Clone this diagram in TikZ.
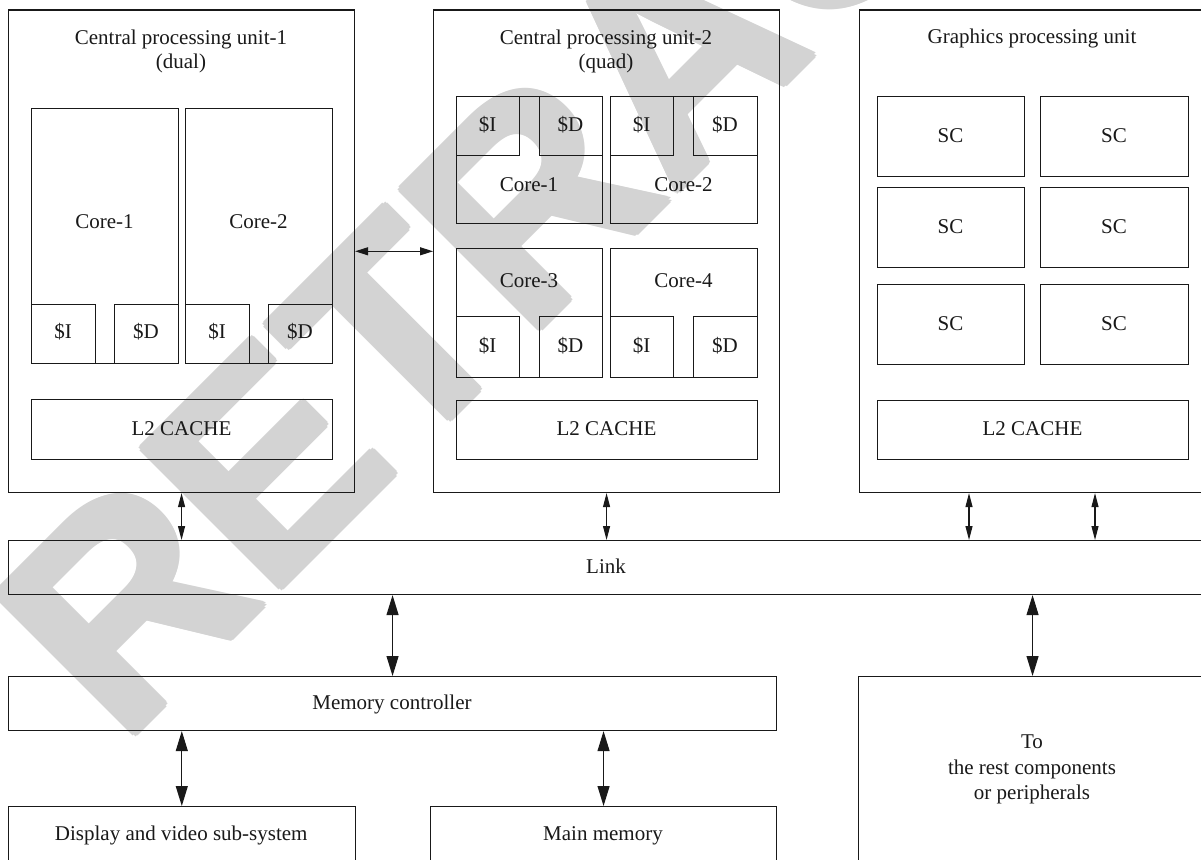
\documentclass[tikz,border=0pt]{standalone}
\usepackage{fontspec}
\setmainfont{Liberation Serif}
\newfontfamily\stampfont{Liberation Sans}
\usetikzlibrary{arrows.meta,calc}
\definecolor{stamp}{RGB}{211,211,211}
\definecolor{ink}{RGB}{25,25,25}

\tikzset{
  box/.style={draw=ink, line width=1.1pt, inner sep=0pt, anchor=north west},
  txt/.style={inner sep=0pt, anchor=base, text=ink, font=\fontsize{21}{24}\selectfont},
  block/.style={inner sep=0pt, anchor=north, align=center, text=ink},
  stampstyle/.style={rotate=45, anchor=base west, inner sep=0pt, text=stamp,
      font=\stampfont\bfseries\fontsize{286}{286}\selectfont},
  linkarrow/.style={draw=ink, line width=1.1pt, {Triangle[length=14pt,width=7pt]}-{Triangle[length=14pt,width=7pt]}},
  midarrow/.style={draw=ink, line width=1.1pt, {Triangle[length=13pt,width=8pt]}-{Triangle[length=13pt,width=8pt]}},
  bigarrow/.style={draw=ink, line width=1.1pt, {Triangle[length=20pt,width=12pt]}-{Triangle[length=20pt,width=12pt]}},
}

\begin{document}
\begin{tikzpicture}[x=1pt,y=-1pt]
\useasboundingbox (0,0) rectangle (1201,859);
\clip (0,0) rectangle (1201,859);
\fill[white] (0,0) rectangle (1201,859);

% background stamp, set a few times with small offsets to give heavier strokes
\coordinate (stampbase) at (122,747);
\foreach \a in {0,45,...,315}{
  \node[stampstyle] (stampword-\a) at ($(stampbase)+(\a:3.5)$) {RETRACTED};
}
\node[stampstyle] (stampword) at (stampbase) {RETRACTED};

% ---------- CPU 1 (dual) ----------
\node[box, minimum width=346pt, minimum height=482.5pt] (cpu1) at (8,9.5) {};
\node[block, font=\fontsize{21}{24}\selectfont] (cpu1title) at (181,30) {Central processing unit-1\\(dual)};
\node[box, minimum width=147pt, minimum height=255pt] (c1core1) at (31,108) {};
\node[box, minimum width=147pt, minimum height=255pt] (c1core2) at (185,108) {};
\node[box, minimum width=64pt, minimum height=59pt] (c1i1) at (31,304) {};
\node[box, minimum width=64pt, minimum height=59pt] (c1d1) at (114,304) {};
\node[box, minimum width=64pt, minimum height=59pt] (c1i2) at (185,304) {};
\node[box, minimum width=64pt, minimum height=59pt] (c1d2) at (268,304) {};
\node[box, minimum width=301pt, minimum height=60pt] (c1l2) at (31,399) {};
\node[txt] (t-c1core1) at (104.5,228) {Core-1};
\node[txt] (t-c1core2) at (258.5,228) {Core-2};
\node[txt] (t-c1i1) at (63,338) {\$I};
\node[txt] (t-c1d1) at (146,338) {\$D};
\node[txt] (t-c1i2) at (217,338) {\$I};
\node[txt] (t-c1d2) at (300,338) {\$D};
\node[txt] (t-c1l2) at (181.5,435) {L2 CACHE};

% ---------- CPU 2 (quad) ----------
\node[box, minimum width=346pt, minimum height=482.5pt] (cpu2) at (433,9.5) {};
\node[block, font=\fontsize{21}{24}\selectfont] (cpu2title) at (606,30) {Central processing unit-2\\(quad)};
\node[box, minimum width=146pt, minimum height=127pt] (c2core1) at (456,96) {};
\node[box, minimum width=147pt, minimum height=127pt] (c2core2) at (610,96) {};
\node[box, minimum width=146pt, minimum height=129pt] (c2core3) at (456,248) {};
\node[box, minimum width=147pt, minimum height=129pt] (c2core4) at (610,248) {};
\node[box, minimum width=63pt, minimum height=59pt] (c2i1) at (456,96) {};
\node[box, minimum width=63pt, minimum height=59pt] (c2d1) at (539,96) {};
\node[box, minimum width=63pt, minimum height=59pt] (c2i2) at (610,96) {};
\node[box, minimum width=64pt, minimum height=59pt] (c2d2) at (693,96) {};
\node[box, minimum width=63pt, minimum height=61pt] (c2i3) at (456,316) {};
\node[box, minimum width=63pt, minimum height=61pt] (c2d3) at (539,316) {};
\node[box, minimum width=63pt, minimum height=61pt] (c2i4) at (610,316) {};
\node[box, minimum width=64pt, minimum height=61pt] (c2d4) at (693,316) {};
\node[box, minimum width=301pt, minimum height=59pt] (c2l2) at (456,400) {};
\node[txt] (t-c2i1) at (487.5,131) {\$I};
\node[txt] (t-c2d1) at (570.5,131) {\$D};
\node[txt] (t-c2i2) at (641.5,131) {\$I};
\node[txt] (t-c2d2) at (725,131) {\$D};
\node[txt] (t-c2core1) at (529,191) {Core-1};
\node[txt] (t-c2core2) at (683.5,191) {Core-2};
\node[txt] (t-c2core3) at (529,287) {Core-3};
\node[txt] (t-c2core4) at (683.5,287) {Core-4};
\node[txt] (t-c2i3) at (487.5,352) {\$I};
\node[txt] (t-c2d3) at (570.5,352) {\$D};
\node[txt] (t-c2i4) at (641.5,352) {\$I};
\node[txt] (t-c2d4) at (725,352) {\$D};
\node[txt] (t-c2l2) at (606.5,435) {L2 CACHE};

% ---------- GPU ----------
\node[box, minimum width=360pt, minimum height=482.5pt] (gpu) at (859,9.5) {};
\node[txt] (gputitle) at (1032,44) {Graphics processing unit};
\foreach \r/\y in {1/96,2/187,3/284}{
  \node[box, minimum width=147pt, minimum height=80pt] (sc\r a) at (877,\y) {};
  \node[box, minimum width=148pt, minimum height=80pt] (sc\r b) at (1040,\y) {};
  \node[txt] (t-sc\r a) at (950.5,\y+46) {SC};
  \node[txt] (t-sc\r b) at (1114,\y+46) {SC};
}
\node[box, minimum width=311pt, minimum height=59pt] (gl2) at (877,400) {};
\node[txt] (t-gl2) at (1032.5,435) {L2 CACHE};

% ---------- link and lower blocks ----------
\node[box, minimum width=1210pt, minimum height=54pt] (link) at (8,540) {};
\node[txt] (t-link) at (606,573) {Link};
\node[box, minimum width=768pt, minimum height=54pt] (mc) at (8,676) {};
\node[txt] (t-mc) at (392,709) {Memory controller};
\node[box, minimum width=348pt, minimum height=220pt] (rest) at (858,676) {};
\node[block, font=\fontsize{21}{25.5}\selectfont] (t-rest) at (1032,735) {To\\the rest components\\or peripherals};
\node[box, minimum width=346.5pt, minimum height=90pt] (disp) at (8,806) {};
\node[txt] (t-disp) at (181.25,840) {Display and video sub-system};
\node[box, minimum width=346pt, minimum height=90pt] (mem) at (430,806) {};
\node[txt] (t-mem) at (603,840) {Main memory};

% ---------- connectors ----------
\draw[midarrow] (cpu1.east) -- (cpu2.west);
\draw[linkarrow] (cpu1.south) -- (cpu1.south |- link.north);
\draw[linkarrow] (cpu2.south) -- (cpu2.south |- link.north);
\draw[linkarrow] ([xshift=110pt]gpu.south west) -- ([xshift=110pt]gpu.south west |- link.north);
\draw[linkarrow] ([xshift=236pt]gpu.south west) -- ([xshift=236pt]gpu.south west |- link.north);
\draw[bigarrow] (mc.north) -- (mc.north |- link.south);
\draw[bigarrow] (rest.north) -- (rest.north |- link.south);
\draw[bigarrow] (disp.north) -- (disp.north |- mc.south);
\draw[bigarrow] (mem.north) -- (mem.north |- mc.south);
\end{tikzpicture}
\end{document}
